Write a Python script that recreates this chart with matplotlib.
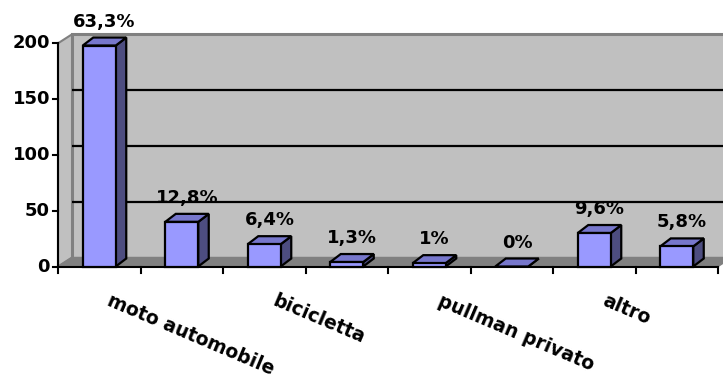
import matplotlib
matplotlib.use("Agg")
import matplotlib.pyplot as plt
from matplotlib.patches import Polygon

# ---- data ----
category_labels = ["moto automobile", "", "bicicletta", "", "pullman privato", "", "altro", ""]
counts = [198, 40, 20, 4, 3, 0, 30, 18]
y_ticks = [0, 50, 100, 150, 200]

total = sum(counts)


def pct_text(v):
    s = f"{v / total * 100:.1f}"
    if s.endswith(".0"):
        s = s[:-2]
    return s.replace(".", ",") + "%"


# ---- geometry (pixels at dpi 100) ----
W, H, DPI = 723, 378, 100
AX_LEFT, AX_BOTTOM_Y, AX_W, AX_H = 58, 266.5, 660, 223.2
n = len(counts)
ymax = 200

fig = plt.figure(figsize=(W / DPI, H / DPI), dpi=DPI, facecolor="white")
ax = fig.add_axes([AX_LEFT / W, (H - AX_BOTTOM_Y) / H, AX_W / W, AX_H / H])
ax.set_xlim(0, n)
ax.set_ylim(0, ymax)
ax.patch.set_visible(False)
for s in ax.spines.values():
    s.set_visible(False)
ax.set_xticks([])
ax.set_yticks([])

px_x = AX_W / n      # pixels per category
px_y = AX_H / ymax   # pixels per unit


def depth(dx_px, dy_px):
    return dx_px / px_x, dy_px / px_y


FONT = "DejaVu Sans"

# ---- walls and floor ----
wdx, wdy = depth(14, 9)
wall = Polygon([(wdx, wdy), (n + wdx, wdy), (n + wdx, ymax + wdy), (wdx, ymax + wdy)],
               closed=True, facecolor="#c0c0c0", edgecolor="#808080", lw=2.2,
               clip_on=False, zorder=1)
ax.add_patch(wall)
side = Polygon([(0, 0), (wdx, wdy), (wdx, ymax + wdy), (0, ymax)],
               closed=True, facecolor="#c0c0c0", edgecolor="#808080", lw=1.5,
               clip_on=False, zorder=1.1)
ax.add_patch(side)
floor = Polygon([(0, 0), (n, 0), (n + wdx, wdy), (wdx, wdy)],
                closed=True, facecolor="#808080", edgecolor="#808080", lw=1,
                clip_on=False, zorder=1.2)
ax.add_patch(floor)

for t in y_ticks[1:-1]:
    ax.plot([wdx, n + wdx], [t + wdy, t + wdy], color="black", lw=1.6,
            clip_on=False, zorder=1.5, solid_capstyle="butt")

# ---- axes lines and ticks ----
ax.plot([0, 0], [0, ymax], color="black", lw=1.5, clip_on=False, zorder=3)
ax.plot([0, n], [0, 0], color="black", lw=1.5, clip_on=False, zorder=3)
tick_dx = 5 / px_x
tick_dy = 6 / px_y
for t in y_ticks:
    ax.plot([-tick_dx, 0], [t, t], color="black", lw=1.5, clip_on=False, zorder=3)
    ax.text(-8 / px_x, t, str(t), ha="right", va="center", fontsize=13,
            fontweight="bold", family=FONT, color="black")
for i in range(n + 1):
    ax.plot([i, i], [0, -tick_dy], color="black", lw=1.5, clip_on=False, zorder=3)

# ---- bars ----
bw = 0.40
bdx, bdy = depth(10.5, 8)
front_c, top_c, side_c = "#9999ff", "#7777cc", "#4d4d80"
for i, v in enumerate(counts):
    x0 = i + 0.5 - bw / 2
    x1 = i + 0.5 + bw / 2
    kw = dict(closed=True, edgecolor="black", lw=1.6, joinstyle="miter",
              clip_on=False, zorder=4)
    ax.add_patch(Polygon([(x1, 0), (x1 + bdx, bdy), (x1 + bdx, v + bdy), (x1, v)],
                         facecolor=side_c, **kw))
    ax.add_patch(Polygon([(x0, v), (x1, v), (x1 + bdx, v + bdy), (x0 + bdx, v + bdy)],
                         facecolor=top_c, **kw))
    if v > 0:
        ax.add_patch(Polygon([(x0, 0), (x1, 0), (x1, v), (x0, v)],
                             facecolor=front_c, **kw))
    ax.text(i + 0.5 + bdx / 2, v + bdy + 11 / px_y, pct_text(v), ha="center",
            va="baseline", fontsize=13, fontweight="bold", family=FONT,
            color="black", zorder=5)

# ---- category labels ----
for i, lab in enumerate(category_labels):
    if lab:
        ax.text(i + 0.5 + 13 / px_x, -25 / px_y, lab, rotation=-23,
                rotation_mode="anchor", ha="left", va="top", fontsize=13.5,
                fontweight="bold", family=FONT, color="black")

fig.savefig("out.png", dpi=DPI, facecolor="white")
